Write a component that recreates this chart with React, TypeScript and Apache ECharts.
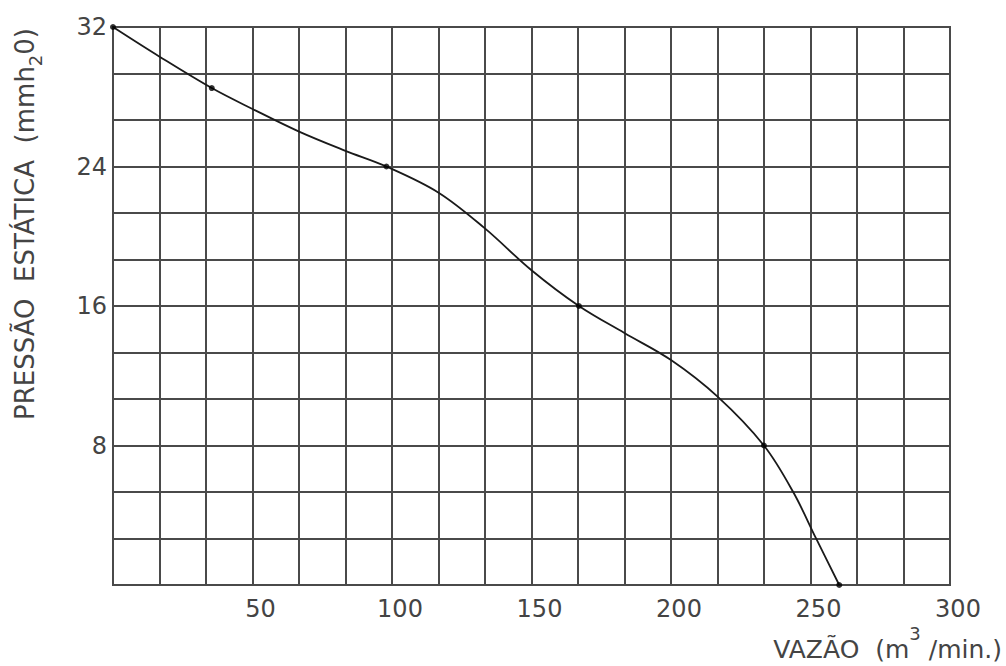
import React, { useEffect, useRef } from "react";
import * as echarts from "echarts";

// Curve: flow (m³/min) vs static pressure (mmH2O)
const curveFlow = [0, 16.7, 35.4, 50, 66.7, 83.3, 98, 116.7, 133.3, 150, 167, 183.3, 200, 216.7, 233.3, 243.8, 252, 260.3];
const curvePressure = [32, 30.3, 28.5, 27.3, 26.0, 24.9, 24, 22.5, 20.45, 18.05, 16, 14.45, 12.9, 10.8, 8, 5.33, 2.67, 0];

// Marked points
const markFlow = [0, 35.4, 98, 167, 233.3, 260.3];
const markPressure = [32, 28.5, 24, 16, 8, 0];

const xMin = 0;
const xMax = 300;
const xGridStep = 50 / 3;
const yMin = 0;
const yMax = 32;
const yGridStep = 8 / 3;

const xAxisName = ["VAZÃO  (m", "3", " /min.)"];
const yAxisName = ["PRESSÃO  ESTÁTICA  (mmh", "2", "0)"];

export default function App() {
  const ref = useRef<HTMLDivElement>(null);
  useEffect(() => {
    if (!ref.current) return;
    const chart = echarts.init(ref.current, null, { renderer: "svg" });
    const gridColor = "#4a4a4a";
    const labelColor = "#444";
    const font = "DejaVu Sans";
    chart.setOption({
      animation: false,
      backgroundColor: "#fff",
      grid: {
        left: 113,
        top: 27,
        right: 56,
        bottom: 81,
        show: true,
        borderColor: gridColor,
        borderWidth: 2,
      },
      xAxis: {
        type: "value",
        min: xMin,
        max: xMax,
        interval: xGridStep,
        axisLine: { show: true, lineStyle: { color: gridColor, width: 2 } },
        axisTick: { show: false },
        splitLine: { show: true, lineStyle: { color: gridColor, width: 2 } },
        axisLabel: {
          show: true,
          margin: 12,
          padding: [0, 0, 0, 16],
          fontFamily: font,
          fontSize: 24,
          color: labelColor,
          showMinLabel: true,
          showMaxLabel: true,
          formatter: (v: number) => {
            const k = Math.round(v / xGridStep);
            return k > 0 && k % 3 === 0 ? String(Math.round(k * xGridStep)) : "";
          },
        },
      },
      yAxis: {
        type: "value",
        min: yMin,
        max: yMax,
        interval: yGridStep,
        axisLine: { show: true, lineStyle: { color: gridColor, width: 2 } },
        axisTick: { show: false },
        splitLine: { show: true, lineStyle: { color: gridColor, width: 2 } },
        axisLabel: {
          show: true,
          margin: 6,
          padding: [4, 0, 0, 0],
          fontFamily: font,
          fontSize: 24,
          color: labelColor,
          showMinLabel: true,
          showMaxLabel: true,
          formatter: (v: number) => {
            const k = Math.round(v / yGridStep);
            return k > 0 && k % 3 === 0 ? String(Math.round(k * yGridStep)) : "";
          },
        },
      },
      series: [
        {
          type: "line",
          data: curveFlow.map((x, i) => [x, curvePressure[i]]),
          smooth: 0.35,
          showSymbol: false,
          lineStyle: { color: "#1a1a1a", width: 1.8 },
          z: 3,
        },
        {
          type: "scatter",
          data: markFlow.map((x, i) => [x, markPressure[i]]),
          symbolSize: 6,
          itemStyle: { color: "#000" },
          z: 4,
        },
      ],
      graphic: [
        {
          type: "text",
          x: 1002,
          y: 662,
          style: {
            text: `{a|${xAxisName[0]}}{s|${xAxisName[1]}}{a|${xAxisName[2]}}`,
            align: "right",
            verticalAlign: "bottom",
            rich: {
              a: { fontFamily: font, fontSize: 25, fill: labelColor, verticalAlign: "bottom", lineHeight: 38 },
              s: { fontFamily: font, fontSize: 18, fill: labelColor, verticalAlign: "top", lineHeight: 38 },
            },
          },
        },
        {
          type: "text",
          x: 25,
          y: 224,
          rotation: Math.PI / 2,
          style: {
            text: `{a|${yAxisName[0]}}{s|${yAxisName[1]}}{a|${yAxisName[2]}}`,
            align: "center",
            verticalAlign: "middle",
            rich: {
              a: { fontFamily: font, fontSize: 26, fill: labelColor, verticalAlign: "middle", lineHeight: 38 },
              s: { fontFamily: font, fontSize: 18, fill: labelColor, verticalAlign: "bottom", lineHeight: 38 },
            },
          },
        },
      ],
    });
    return () => chart.dispose();
  }, []);
  return (
    <div
      ref={ref}
      style={{ position: "fixed", left: 0, top: 0, width: 1006, height: 666 }}
    />
  );
}
